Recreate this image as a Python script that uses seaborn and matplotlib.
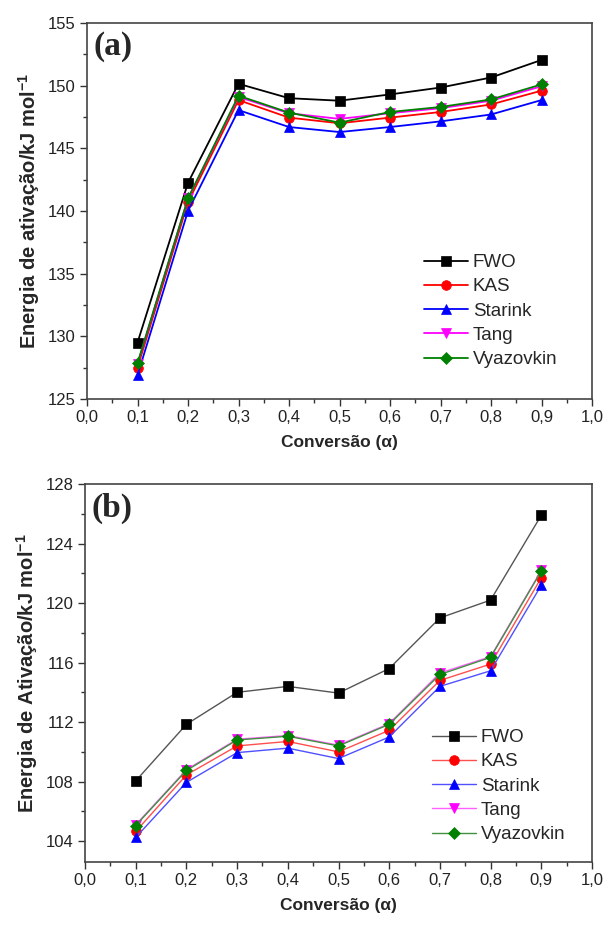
import numpy as np
import pandas as pd
import seaborn as sns
import matplotlib
matplotlib.use("Agg")
import matplotlib.pyplot as plt
from matplotlib.ticker import FixedLocator, FixedFormatter, MultipleLocator

# ---------------- data ----------------
conversion = [0.1, 0.2, 0.3, 0.4, 0.5, 0.6, 0.7, 0.8, 0.9]
methods = ["FWO", "KAS", "Starink", "Tang", "Vyazovkin"]

# panel (a)
a_fwo = [129.5, 142.25, 150.15, 149.0, 148.8, 149.3, 149.85, 150.65, 152.05]
a_kas = [127.5, 140.7, 148.85, 147.45, 147.0, 147.45, 147.9, 148.5, 149.6]
a_starink = [126.9, 140.0, 148.05, 146.7, 146.3, 146.7, 147.15, 147.7, 148.85]
a_tang = [127.8, 141.0, 149.1, 147.8, 147.35, 147.8, 148.2, 148.8, 149.95]
a_vyazovkin = [127.85, 141.0, 149.2, 147.85, 147.05, 147.9, 148.3, 148.9, 150.1]

# panel (b)
b_fwo = [108.05, 111.85, 114.0, 114.4, 113.95, 115.6, 119.0, 120.2, 125.9]
b_kas = [104.65, 108.45, 110.4, 110.7, 110.0, 111.45, 114.8, 115.9, 121.7]
b_starink = [104.25, 107.95, 109.95, 110.25, 109.55, 111.0, 114.4, 115.45, 121.2]
b_tang = [105.1, 108.8, 110.85, 111.1, 110.45, 111.9, 115.3, 116.4, 122.2]
b_vyazovkin = [105.05, 108.75, 110.8, 111.05, 110.4, 111.85, 115.2, 116.35, 122.15]

x_ticks = [0.0, 0.1, 0.2, 0.3, 0.4, 0.5, 0.6, 0.7, 0.8, 0.9, 1.0]
x_ticklabels = ["0,0", "0,1", "0,2", "0,3", "0,4", "0,5", "0,6", "0,7", "0,8", "0,9", "1,0"]
a_yticks = [125, 130, 135, 140, 145, 150, 155]
b_yticks = [104, 108, 112, 116, 120, 124, 128]

# ---------------- style ----------------
sns.set_theme(style="ticks")
plt.rcParams["font.family"] = ["Liberation Sans", "DejaVu Sans"]
plt.rcParams["mathtext.fontset"] = "custom"
plt.rcParams["mathtext.rm"] = "Liberation Sans"
plt.rcParams["mathtext.bf"] = "Liberation Sans:bold"

colors = {"FWO": "#000000", "KAS": "#ff0000", "Starink": "#0000ff",
          "Tang": "#ff00ff", "Vyazovkin": "#008000"}
light = {"FWO": "#555555", "KAS": "#ff5050", "Starink": "#5050ff",
         "Tang": "#ff60ff", "Vyazovkin": "#409040"}
markers = {"FWO": "s", "KAS": "o", "Starink": "^", "Tang": "v", "Vyazovkin": "D"}
msizes = {"FWO": 6.5, "KAS": 7, "Starink": 7.5, "Tang": 7.5, "Vyazovkin": 6.5}

def make_df(series):
    rows = []
    for m, vals in zip(methods, series):
        for c, v in zip(conversion, vals):
            rows.append({"Conversão": c, "E": v, "Método": m})
    return pd.DataFrame(rows)

df_a = make_df([a_fwo, a_kas, a_starink, a_tang, a_vyazovkin])
df_b = make_df([b_fwo, b_kas, b_starink, b_tang, b_vyazovkin])

fig = plt.figure(figsize=(6.07, 9.27), dpi=100)
ax_a = fig.add_axes([87/607, 1-399/927, 505/607, 376/927])
ax_b = fig.add_axes([85/607, 1-862/927, 507/607, 378/927])

def draw(ax, df, lw, linecols):
    for m in methods:
        sub = df[df["Método"] == m]
        sns.lineplot(data=sub, x="Conversão", y="E", ax=ax, label=m,
                     color=colors[m], marker=markers[m], markersize=msizes[m],
                     markeredgewidth=0.5, linewidth=lw, legend=False)
        line = ax.lines[-1]
        line.set_color(linecols[m])
        line.set_markerfacecolor(colors[m])
        line.set_markeredgecolor(colors[m])

draw(ax_a, df_a, 1.3, colors)
draw(ax_b, df_b, 1.0, light)

def style_axis(ax, yticks, ylim, yminor, ylabel, panel, leg_anchor):
    ax.set_xlim(0, 1.0)
    ax.set_ylim(*ylim)
    ax.xaxis.set_major_locator(FixedLocator(x_ticks))
    ax.xaxis.set_major_formatter(FixedFormatter(x_ticklabels))
    ax.xaxis.set_minor_locator(MultipleLocator(0.05))
    ax.set_yticks(yticks)
    ax.set_yticklabels([str(t) for t in yticks])
    ax.yaxis.set_minor_locator(MultipleLocator(yminor))
    ax.tick_params(which="major", direction="out", length=5, width=1.0,
                   labelsize=12, colors="#333333", labelcolor="#222222", pad=3)
    ax.tick_params(which="minor", direction="out", length=3, width=1.0, colors="#333333")
    for s in ax.spines.values():
        s.set_visible(True)
        s.set_linewidth(1.2)
        s.set_color("#444444")
    ax.set_xlabel("Conversão (α)", fontsize=12.5, fontweight="bold", labelpad=7)
    ax.set_ylabel(ylabel, fontsize=14.5, fontweight="bold", labelpad=4)
    ax.text(0.012, 0.978, panel, transform=ax.transAxes, ha="left", va="top",
            fontsize=24, fontweight="bold", family=["Liberation Serif", "DejaVu Serif"])
    ax.legend(loc="upper left", bbox_to_anchor=leg_anchor, frameon=False,
              fontsize=13.5, handlelength=2.35, handletextpad=0.25,
              labelspacing=0.38, borderpad=0, borderaxespad=0)
    ax.grid(False)

style_axis(ax_a, a_yticks, (125, 155), 2.5,
           r"Energia de ativação/kJ mol$^{\mathbf{-1}}$", "(a)",
           ((424-87)/505, (399-254)/376))
style_axis(ax_b, b_yticks, (102.6, 128), 2.0,
           r"Energia de Ativação/kJ mol$^{\mathbf{-1}}$", "(b)",
           ((432-85)/507, (862-729)/378))

fig.savefig("out.png", dpi=100)
